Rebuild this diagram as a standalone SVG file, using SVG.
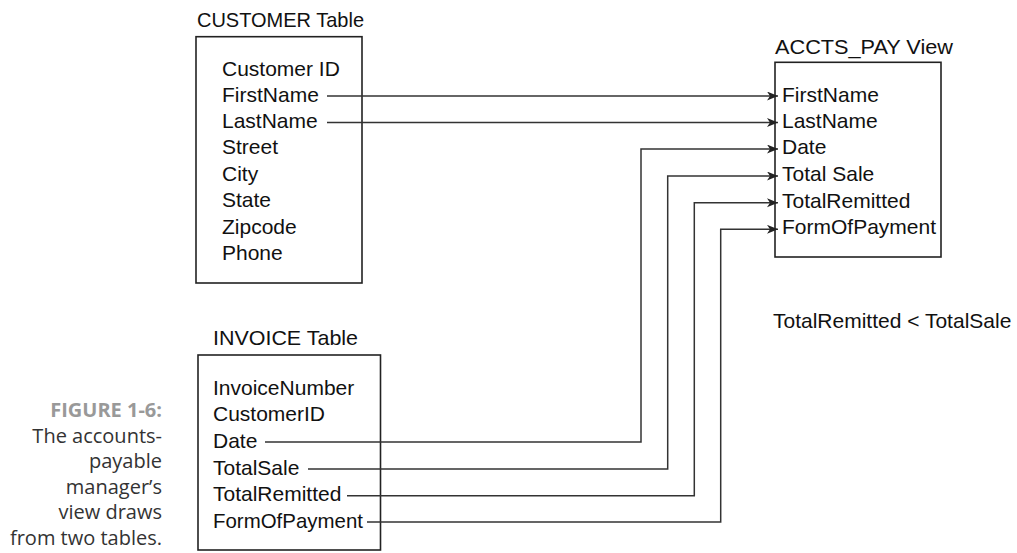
<svg xmlns="http://www.w3.org/2000/svg" width="1017" height="553" viewBox="0 0 1017 553">
<style>
.t{font-family:"Liberation Sans",Arial,sans-serif;font-size:21px;fill:#111}
.box{fill:none;stroke:#222;stroke-width:1.6}
.ln{fill:none;stroke:#333;stroke-width:1.5}
.cap{font-family:"Open Sans","Noto Sans",sans-serif;font-size:20px;fill:#333;text-anchor:end}
.capb{font-weight:bold;fill:#999}
</style>
<defs>
<marker id="ah" markerUnits="userSpaceOnUse" markerWidth="12" markerHeight="10" refX="11" refY="4.5" orient="auto">
<path d="M0,0 L11,4.5 L0,9 L3,4.5 z" fill="#222"/>
</marker>
</defs>
<rect width="1017" height="553" fill="#fff"/>
<g id="customer">
<text class="t" x="197" y="27" textLength="167" lengthAdjust="spacingAndGlyphs">CUSTOMER Table</text>
<rect class="box" x="196" y="36.7" width="166" height="246.3"/>
<text class="t" x="222" y="76">Customer ID</text>
<text class="t" x="222" y="102">FirstName</text>
<text class="t" x="222" y="128">LastName</text>
<text class="t" x="222" y="154">Street</text>
<text class="t" x="222" y="180.5">City</text>
<text class="t" x="222" y="207">State</text>
<text class="t" x="222" y="233.5">Zipcode</text>
<text class="t" x="222" y="260">Phone</text>
</g>
<g id="accts_pay">
<text class="t" x="775" y="54" textLength="178" lengthAdjust="spacingAndGlyphs">ACCTS_PAY View</text>
<rect class="box" x="775" y="62.3" width="166" height="194.7"/>
<text class="t" x="782" y="101.5">FirstName</text>
<text class="t" x="782" y="127.5">LastName</text>
<text class="t" x="782" y="154">Date</text>
<text class="t" x="782" y="181">Total Sale</text>
<text class="t" x="782" y="207.5">TotalRemitted</text>
<text class="t" x="782" y="234">FormOfPayment</text>
</g>
<g id="invoice">
<text class="t" x="213" y="345" textLength="145" lengthAdjust="spacingAndGlyphs">INVOICE Table</text>
<rect class="box" x="198" y="355" width="182.5" height="195"/>
<text class="t" x="213" y="394.5">InvoiceNumber</text>
<text class="t" x="213" y="421">CustomerID</text>
<text class="t" x="213" y="447.5">Date</text>
<text class="t" x="213" y="474.5">TotalSale</text>
<text class="t" x="213" y="501">TotalRemitted</text>
<text class="t" x="213" y="527.5" textLength="150" lengthAdjust="spacingAndGlyphs">FormOfPayment</text>
</g>
<g id="condition">
<text class="t" x="773" y="328">TotalRemitted &lt; TotalSale</text>
</g>
<g id="caption">
<text class="cap capb" x="162" y="417">FIGURE 1-6:</text>
<text class="cap" x="162" y="442.5">The accounts-</text>
<text class="cap" x="162" y="468">payable</text>
<text class="cap" x="162" y="493.5">manager’s</text>
<text class="cap" x="162" y="519">view draws</text>
<text class="cap" x="162" y="544.5">from two tables.</text>
</g>
<g id="connectors">
<path class="ln" d="M327,96 H778" marker-end="url(#ah)"/>
<path class="ln" d="M327,122.5 H778" marker-end="url(#ah)"/>
<path class="ln" d="M265,442 H641 V149 H778" marker-end="url(#ah)"/>
<path class="ln" d="M308,469 H667.7 V176 H778" marker-end="url(#ah)"/>
<path class="ln" d="M347,495.7 H694.3 V202.7 H778" marker-end="url(#ah)"/>
<path class="ln" d="M367,522 H720.7 V229.3 H778" marker-end="url(#ah)"/>
</g>
</svg>
